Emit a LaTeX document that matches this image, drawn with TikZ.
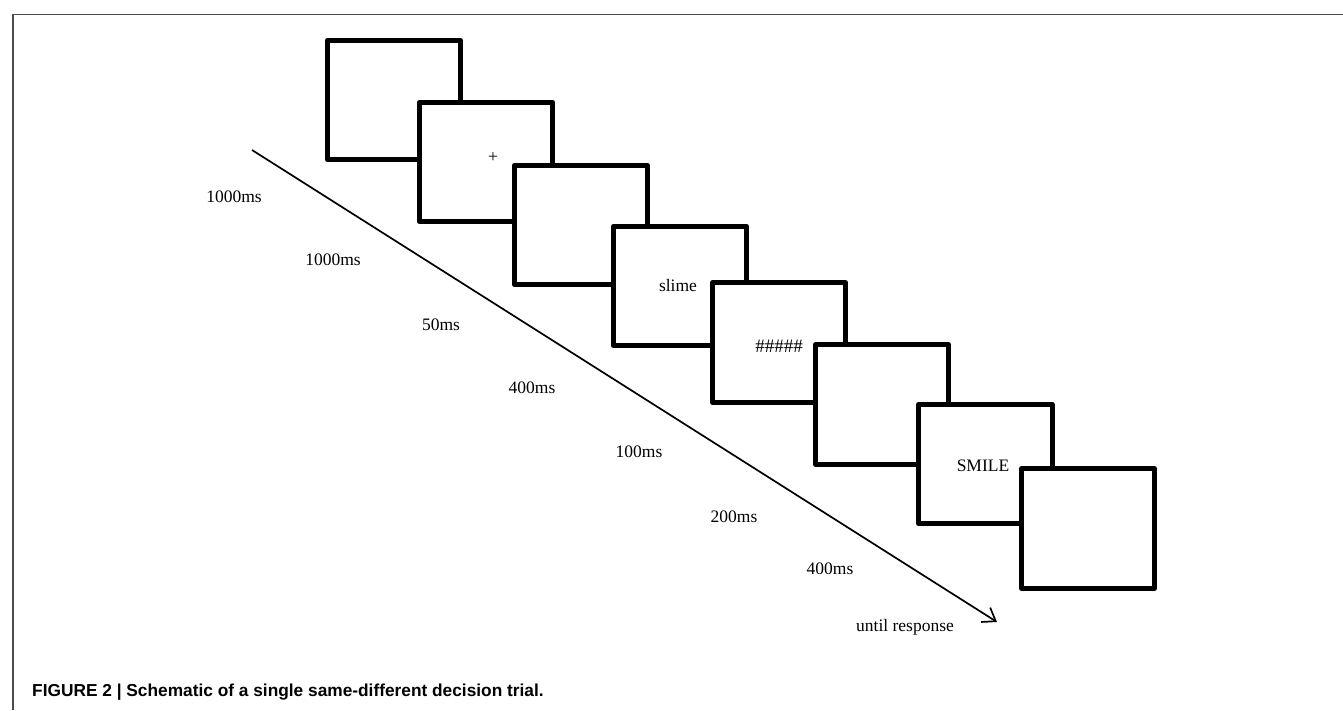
\documentclass[tikz,border=0pt]{standalone}
\usepackage{fontspec}
\setmainfont{Liberation Serif}
\newfontfamily\capfont{Liberation Sans}
\usetikzlibrary{arrows.meta}
\begin{document}
\begin{tikzpicture}[x=1pt,y=-1pt,
  screen/.style={draw=black,fill=white,line width=4.6pt,line join=round,
    minimum width=133.5pt,minimum height=119.5pt,outer sep=0pt,inner sep=0pt},
  lbl/.style={anchor=base,inner sep=0pt,font=\fontsize{17.5}{20}\selectfont},
  frameline/.style={draw=black!70,line width=1.5pt},
  timeline/.style={line width=1.7pt,-{Straight Barb[length=12pt,width=17pt,line width=1.7pt]}}]
\useasboundingbox (0,0) rectangle (1343,710);
% frame
\coordinate (fb) at (13,710);
\coordinate (fc) at (13,14.5);
\coordinate (fr) at (1343,14.5);
\draw[frameline] (fb) -- (fc) -- (fr);
% time arrow
\coordinate (tstart) at (252,150);
\coordinate (tend) at (997,622);
\draw[timeline] (tstart) -- (tend);
% screens
\node[screen] (s1) at (394,100) {};
\node[screen] (s2) at (486,162) {};
\node[screen] (s3) at (581,225) {};
\node[screen] (s4) at (680,286) {};
\node[screen] (s5) at (779,342.5) {};
\node[screen] (s6) at (882,404.5) {};
\node[screen] (s7) at (985.5,464) {};
\node[screen] (s8) at (1088,528.5) {};
% screen contents
\node[lbl] (plus) at (493,162) {+};
\node[lbl] (slime) at (678,291.5) {slime};
\node[lbl,font=\fontsize{19}{22}\selectfont] (mask) at (779,352) {\#\#\#\#\#};
\node[lbl] (smile) at (983,471.5) {SMILE};
% durations
\node[lbl] (d1) at (234,202) {1000ms};
\node[lbl] (d2) at (333,265) {1000ms};
\node[lbl] (d3) at (441,330) {50ms};
\node[lbl] (d4) at (532,393) {400ms};
\node[lbl] (d5) at (639,457) {100ms};
\node[lbl] (d6) at (734,522) {200ms};
\node[lbl] (d7) at (830,574) {400ms};
\node[lbl] (d8) at (905,631) {until response};
% caption
\node[anchor=base west,inner sep=0pt,font=\capfont\bfseries\fontsize{17.3}{20}\selectfont] (cap) at (32,696) {FIGURE 2 | Schematic of a single same-different decision trial.};
\end{tikzpicture}
\end{document}
